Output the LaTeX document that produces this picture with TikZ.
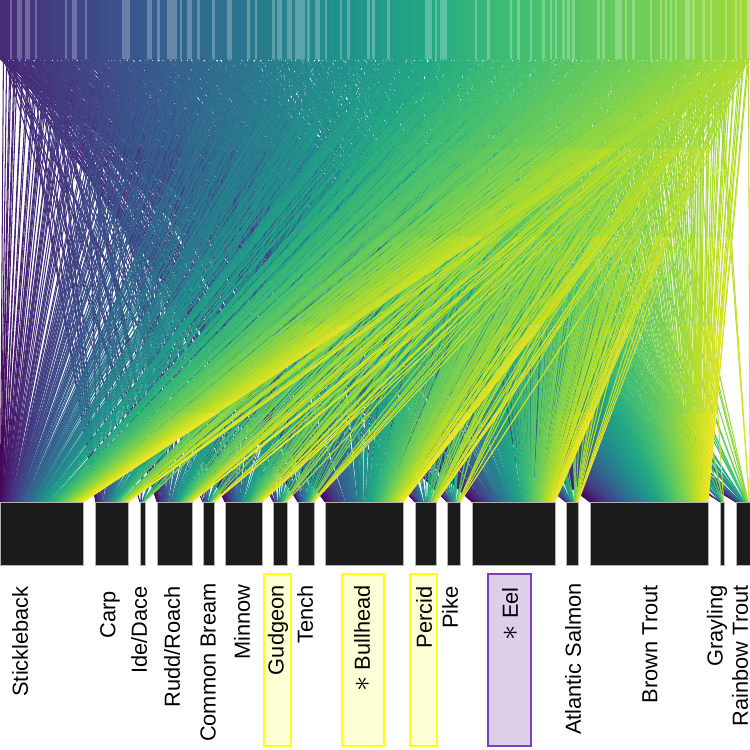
\documentclass[tikz,border=0pt]{standalone}
\usepackage{fontspec}
\setmainfont{Liberation Sans}
\definecolor{vd0}{HTML}{440154}
\definecolor{vd1}{HTML}{482475}
\definecolor{vd2}{HTML}{414487}
\definecolor{vd3}{HTML}{355F8D}
\definecolor{vd4}{HTML}{2A788E}
\definecolor{vd5}{HTML}{21918C}
\definecolor{vd6}{HTML}{22A884}
\definecolor{vd7}{HTML}{44BF70}
\definecolor{vd8}{HTML}{7AD151}
\definecolor{vd9}{HTML}{BDDF26}
\definecolor{vd10}{HTML}{FDE725}
\definecolor{blockfill}{HTML}{1B1B1B}
\definecolor{hlyellowfill}{HTML}{FFFFD6}
\definecolor{hlyellowline}{HTML}{FFFF1A}
\definecolor{hlpurplefill}{HTML}{DCCFE8}
\definecolor{hlpurpleline}{HTML}{7B3FBF}
\newcommand\vircol[2]{%
  \pgfmathsetmacro\vtt{max(0,min(10*(#1),9.999))}%
  \pgfmathtruncatemacro\vka{int(\vtt)}%
  \pgfmathtruncatemacro\vkb{\vka+1}%
  \pgfmathtruncatemacro\vpp{round(100*(\vkb-\vtt))}%
  \colorlet{#2}{vd\vka!\vpp!vd\vkb}%
}
\newcommand\bigast{{\fontsize{17}{17}\selectfont$\ast$}}
\tikzset{
  edge/.style={line width=0.6pt, line cap=round},
  blk/.style={draw=gray!60, fill=blockfill, line width=0.4pt, inner sep=0pt, minimum height=63*0.02cm},
  lbl/.style={rotate=90, anchor=east, inner sep=0pt, font=\fontsize{12.4}{14}\selectfont, text=black},
  hlyellow/.style={draw=hlyellowline, fill=hlyellowfill, line width=0.8pt},
  hlpurple/.style={draw=hlpurpleline, fill=hlpurplefill, line width=0.8pt}
}
\begin{document}
\begin{tikzpicture}[x=0.02cm,y=-0.02cm]
\useasboundingbox (0,0) rectangle (750,750);
\pgfmathsetseed{12}
% top band of sources
\foreach \i in {0,...,299}{%
  \pgfmathsetmacro\uu{(\i+0.5)/300}%
  \pgfmathsetmacro\ct{\uu<0.667 ? 0.12+0.84*\uu : 0.68+0.54*(\uu-0.667)}%
  \vircol{\ct}{cs}%
  \pgfmathtruncatemacro\wr{rnd<0.3 ? 75 : 100}%
  \fill[cs!\wr!white] ({750*\uu-1.3},0) rectangle ({750*\uu+1.3},60);
}
% connectors (colour shifts from the band colour at the top to the block colour at the bottom)
\foreach \i in {0,...,359}{%
  \pgfmathsetmacro\uu{(\i+rnd)/360}%
  \pgfmathsetmacro\xs{750*\uu}%
  \pgfmathsetmacro\ct{\uu<0.667 ? 0.12+0.84*\uu : 0.68+0.54*(\uu-0.667)}%
  \vircol{\ct+(\uu-\ct)*0.1}{c0}%
  \vircol{\ct+(\uu-\ct)*0.3}{c1}%
  \vircol{\ct+(\uu-\ct)*0.5}{c2}%
  \vircol{\ct+(\uu-\ct)*0.7}{c3}%
  \vircol{\ct+(\uu-\ct)*0.9}{c4}%
  \foreach \bl/\bw in {0/83,95/33,140/5,157/35,203/11,225/37,273/14,298/16,325/78,415/21,447/13,472/83,566/12,590/118,720/4,736/14}{%
    \pgfmathtruncatemacro\acc{rnd<(\bw/118) ? 1 : 0}%
    \ifnum\acc=1
      \pgfmathsetmacro\xe{\bl+\bw*\uu}%
      \pgfmathsetmacro\dx{(\xe-\xs)/5}%
      \foreach \s in {0,...,4}{%
        \draw[edge, color=c\s] ({\xs+\dx*\s},{60+88.4*\s}) -- ({\xs+\dx*(\s+1)},{60+88.4*(\s+1)});
      }%
    \fi
  }%
}
% blocks
\foreach \bl/\bw/\nm in {0/83/stickleback,95/33/carp,140/5/idedace,157/35/rudd,203/11/bream,225/37/minnow,273/14/gudgeon,298/16/tench,325/78/bullhead,415/21/percid,447/13/pike,472/83/eel,566/12/salmon,590/118/browntrout,720/4/grayling,736/14/rainbow}{%
  \node[blk, minimum width=\bw*0.02cm] (b-\nm) at ({\bl+\bw/2},533.5) {};
}
% highlight boxes
\draw[hlyellow] (264,574) rectangle (291,746);
\draw[hlyellow] (342,574) rectangle (384,746);
\draw[hlyellow] (410,574) rectangle (437,746);
\draw[hlpurple] (488,574) rectangle (531,746);
% labels
\node[lbl] (l-stickleback) at (20,586) {Stickleback};
\node[lbl] (l-carp) at (110,591) {Carp};
\node[lbl] (l-idedace) at (139,586) {Ide/Dace};
\node[lbl] (l-rudd) at (172,586) {Rudd/Roach};
\node[lbl] (l-bream) at (208,583) {Common Bream};
\node[lbl] (l-minnow) at (242,584) {Minnow};
\node[lbl] (l-gudgeon) at (278,585) {Gudgeon};
\node[lbl] (l-tench) at (305,585) {Tench};
\node[lbl] (l-bullhead) at (362,585) {\bigast\ Bullhead};
\node[lbl] (l-percid) at (424,586) {Percid};
\node[lbl] (l-pike) at (450,586) {Pike};
\node[lbl] (l-eel) at (510,587) {\bigast\ Eel};
\node[lbl] (l-salmon) at (573,583) {Atlantic Salmon};
\node[lbl] (l-browntrout) at (650,585) {Brown Trout};
\node[lbl] (l-grayling) at (717,585) {Grayling};
\node[lbl] (l-rainbow) at (740,585) {Rainbow Trout};
\end{tikzpicture}
\end{document}
